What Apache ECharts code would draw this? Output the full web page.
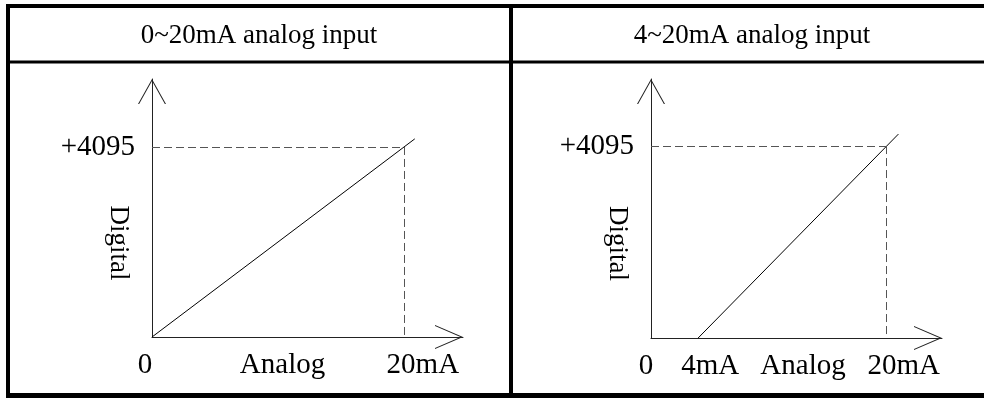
<!DOCTYPE html>
<html>
<head>
<meta charset="utf-8">
<title>analog input</title>
<script src="https://cdn.jsdelivr.net/npm/echarts@6/dist/echarts.min.js"></script>
<style>
  html, body { margin: 0; padding: 0; background: #fff; }
  #main { width: 984px; height: 398px; }
</style>
</head>
<body>
<div id="main"></div>
<script>
// panel titles
const panelTitles = ['0~20mA analog input', '4~20mA analog input'];
// full scale digital value
const fullScale = [4095];
// tick values on the analog axis (mA)
const leftTicks = [0, 20];
const rightTicks = [0, 4, 20];
// transfer lines [mA, digital]
const leftLine = [[0, 0], [20.87, 4270]];
const rightLine = [[4, 0], [21.0, 4350]];
// where the dashed guides meet
const fullMA = 20;

const FONT = 'Liberation Serif';
const INK = '#222';

// open chevron arrows drawn as thin filled shapes
const arrowY = 'path://M0,25L14,0L28,25L26.85,25L14,2.05L1.15,25Z';
const arrowX = 'path://M0,28L12,0L24,28L22.91,28L12,2.54L1.09,28Z';

// small nudges so the labels sit where the original put them
const leftShift = { 0: -7, 20: 19 };
const rightShift = { 0: -5, 4: 12, 20: 17 };

function richFor(shifts) {
  const rich = {};
  Object.keys(shifts).forEach(function (k) {
    const s = shifts[k];
    rich['v' + k] = {
      fontFamily: FONT, fontSize: 29, color: '#000',
      padding: s > 0 ? [0, 0, 0, 2 * s] : [0, -2 * s, 0, 0]
    };
  });
  return rich;
}

function xAxisFor(idx, ticks, shifts, namePad) {
  return {
    type: 'value', gridIndex: idx, min: 0, max: 24.7,
    splitLine: { show: false },
    axisTick: { show: false },
    axisLine: {
      show: true, onZero: false,
      symbol: ['none', arrowX], symbolSize: [24, 28], symbolOffset: [0, -14],
      lineStyle: { color: INK, width: 1 }
    },
    axisLabel: {
      customValues: ticks, margin: 14,
      formatter: function (v) { return '{v' + v + '|' + (v === 0 ? '0' : v + 'mA') + '}'; },
      rich: richFor(shifts)
    },
    name: 'Analog', nameLocation: 'middle', nameGap: 14, nameMoveOverlap: false,
    nameTextStyle: { fontFamily: FONT, fontSize: 29, color: '#000', padding: namePad }
  };
}

function yAxisFor(idx, max) {
  return {
    type: 'value', gridIndex: idx, min: 0, max: max,
    splitLine: { show: false },
    axisTick: { show: false },
    axisLine: {
      show: true, onZero: false,
      symbol: ['none', arrowY], symbolSize: [28, 25], symbolOffset: [0, -12.5],
      lineStyle: { color: INK, width: 1 }
    },
    axisLabel: {
      customValues: fullScale, margin: 17,
      fontFamily: FONT, fontSize: 29, color: '#000',
      formatter: function (v) { return '+' + v; }
    },
    name: 'Digital', nameLocation: 'middle', nameRotate: -90, nameGap: 20, nameMoveOverlap: false,
    nameTextStyle: { fontFamily: FONT, fontSize: 27, color: '#000', padding: [0, 0, 0, 70] }
  };
}

function seriesFor(idx, data) {
  return {
    type: 'line', xAxisIndex: idx, yAxisIndex: idx,
    data: data, symbol: 'none', silent: true,
    lineStyle: { color: '#000', width: 1 },
    markLine: {
      silent: true, symbol: 'none', label: { show: false },
      lineStyle: { color: '#555', width: 1, type: [8, 4] },
      data: [
        [{ coord: [0, fullScale[0]] }, { coord: [fullMA, fullScale[0]] }],
        [{ coord: [fullMA, fullScale[0]] }, { coord: [fullMA, 0] }]
      ]
    }
  };
}

const chart = echarts.init(document.getElementById('main'), null, { renderer: 'canvas' });

chart.setOption({
  animation: false,
  backgroundColor: '#fff',
  grid: [
    { left: 152, right: 521, top: 79, bottom: 61, containLabel: false, outerBoundsMode: 'none' },
    { left: 651, right: 42, top: 79, bottom: 60, containLabel: false, outerBoundsMode: 'none' }
  ],
  xAxis: [
    xAxisFor(0, leftTicks, leftShift, [0, 50, 0, 0]),
    xAxisFor(1, rightTicks, rightShift, [0, 0, 0, 13])
  ],
  yAxis: [yAxisFor(0, 5560), yAxisFor(1, 5525)],
  series: [seriesFor(0, leftLine), seriesFor(1, rightLine)],
  graphic: [
    // table frame
    { type: 'rect', shape: { x: 6, y: 4, width: 978, height: 4 }, style: { fill: '#000' } },
    { type: 'rect', shape: { x: 6, y: 4, width: 4, height: 394 }, style: { fill: '#000' } },
    { type: 'rect', shape: { x: 6, y: 393, width: 978, height: 5 }, style: { fill: '#000' } },
    { type: 'rect', shape: { x: 509, y: 4, width: 4, height: 394 }, style: { fill: '#000' } },
    { type: 'rect', shape: { x: 6, y: 60.5, width: 978, height: 3 }, style: { fill: '#000' } },
    // header titles
    { type: 'text', x: 259, y: 36, style: { text: panelTitles[0], font: '27px "' + FONT + '"', fill: '#000', textAlign: 'center', textVerticalAlign: 'middle' } },
    { type: 'text', x: 752, y: 36, style: { text: panelTitles[1], font: '27px "' + FONT + '"', fill: '#000', textAlign: 'center', textVerticalAlign: 'middle' } }
  ]
});
</script>
</body>
</html>
